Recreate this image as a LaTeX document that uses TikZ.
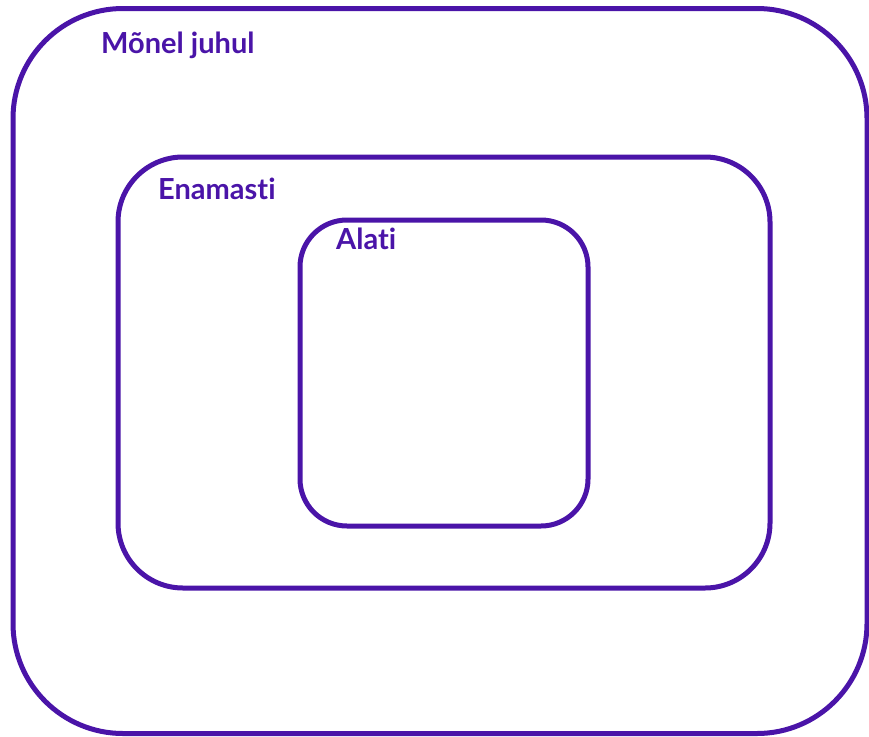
\documentclass[tikz,border=0pt]{standalone}
\usepackage{fontspec}
\setmainfont{Lato}[Ligatures={NoCommon}]
\definecolor{vio}{RGB}{74,20,168}
\begin{document}
\begin{tikzpicture}[x=1pt,y=-1pt,
  box/.style={draw=vio, line width=5pt, rectangle, inner sep=0pt, outer sep=0pt},
  lbl/.style={anchor=base west, inner sep=0pt, text=vio, font=\fontsize{29}{32}\selectfont\bfseries}]
\useasboundingbox (0,0) rectangle (869,736);
\node[box, rounded corners=110pt, minimum width=854pt, minimum height=725pt] (outer) at (440,371) {};
\node[box, rounded corners=65pt, minimum width=652pt, minimum height=431pt] (middle) at (444,372.5) {};
\node[box, rounded corners=47pt, minimum width=288pt, minimum height=306pt] (inner) at (444,373) {};
\node[lbl] (t1) at (101,53) {Mõnel juhul};
\node[lbl] (t2) at (158,199) {Enamasti};
\node[lbl] (t3) at (336,249) {Alati};
\end{tikzpicture}
\end{document}
